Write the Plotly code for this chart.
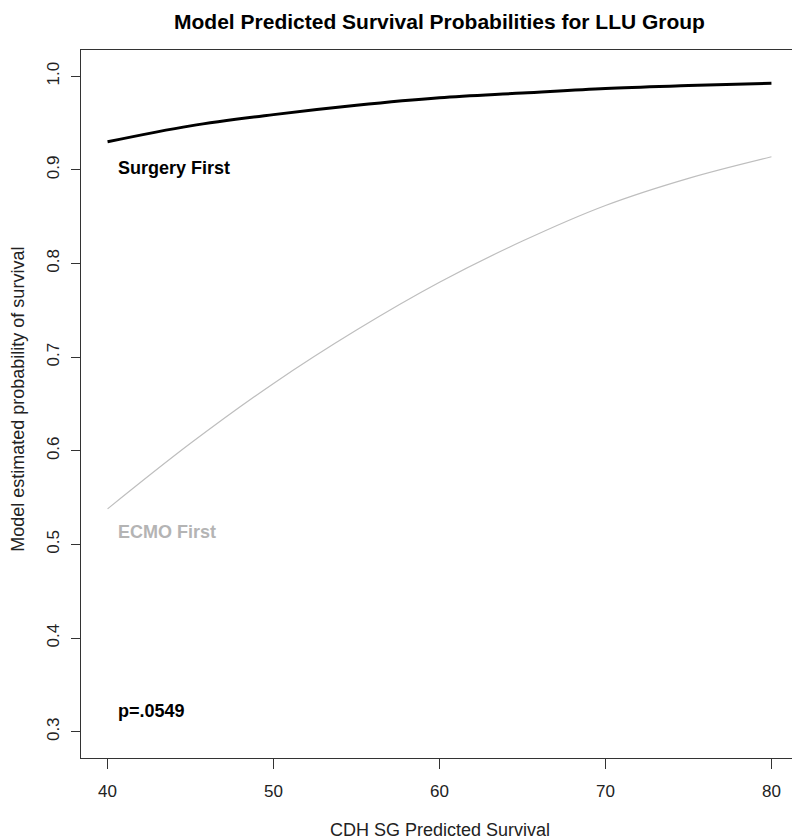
import plotly.graph_objects as go

x_vals = [40, 45, 50, 55, 60, 65, 70, 75, 80]
surgery_first = [0.930, 0.947, 0.959, 0.969, 0.977, 0.982, 0.987, 0.990, 0.9925]
ecmo_first = [0.538, 0.608, 0.672, 0.729, 0.780, 0.824, 0.862, 0.891, 0.914]
x_ticks = [40, 50, 60, 70, 80]
y_ticks = [0.3, 0.4, 0.5, 0.6, 0.7, 0.8, 0.9, 1.0]
y_tick_text = ["0.3", "0.4", "0.5", "0.6", "0.7", "0.8", "0.9", "1.0"]

FONT = "Liberation Sans, Arial, sans-serif"

fig = go.Figure()
fig.add_trace(go.Scatter(x=x_vals, y=surgery_first, mode="lines",
                         line=dict(color="black", width=3, shape="spline"),
                         showlegend=False, hoverinfo="skip"))
fig.add_trace(go.Scatter(x=x_vals, y=ecmo_first, mode="lines",
                         line=dict(color="#bebebe", width=1.2, shape="spline"),
                         showlegend=False, hoverinfo="skip"))

fig.add_annotation(x=40.5, y=0.902, text="<b>Surgery First</b>", showarrow=False,
                   xanchor="left", yanchor="middle", font=dict(size=18, color="black", family=FONT))
fig.add_annotation(x=40.5, y=0.513, text="<b>ECMO First</b>", showarrow=False,
                   xanchor="left", yanchor="middle", font=dict(size=18, color="#b4b4b4", family=FONT))
fig.add_annotation(x=40.5, y=0.322, text="<b>p=.0549</b>", showarrow=False,
                   xanchor="left", yanchor="middle", font=dict(size=18, color="black", family=FONT))

# axis titles
fig.add_annotation(xref="paper", yref="paper", x=0.5, y=0, yshift=-72,
                   text="CDH SG Predicted Survival", showarrow=False,
                   xanchor="center", yanchor="middle",
                   font=dict(size=18, color="#222", family=FONT))
fig.add_annotation(xref="paper", yref="paper", x=0, y=0.506, xshift=-63,
                   text="Model estimated probability of survival", showarrow=False,
                   textangle=-90, xanchor="center", yanchor="middle",
                   font=dict(size=18, color="#222", family=FONT))

fig.update_layout(
    width=792, height=832,
    margin=dict(l=73, r=2, t=42, b=82, autoexpand=False),
    paper_bgcolor="white", plot_bgcolor="white",
    font=dict(family=FONT, size=17, color="#222"),
    title=dict(text="<b>Model Predicted Survival Probabilities for LLU Group</b>",
               x=(73 + 790) / 2 / 792, xanchor="center", y=1 - 14 / 832, yanchor="middle",
               font=dict(size=21, color="black", family=FONT)),
)
fig.update_xaxes(range=[38.4, 81.6], tickvals=x_ticks, ticks="outside", ticklen=10,
                 tickcolor="#333", showgrid=False, zeroline=False,
                 showline=True, linecolor="#333", linewidth=1, mirror=True,
                 ticklabelstandoff=8, automargin=False)
fig.update_yaxes(range=[0.272, 1.028], tickvals=y_ticks, ticktext=y_tick_text,
                 tickangle=-90, ticks="outside", ticklen=9,
                 tickcolor="#333", showgrid=False, zeroline=False,
                 showline=True, linecolor="#333", linewidth=1, mirror=True,
                 ticklabelstandoff=5, automargin=False)

fig.write_html("out.html")
